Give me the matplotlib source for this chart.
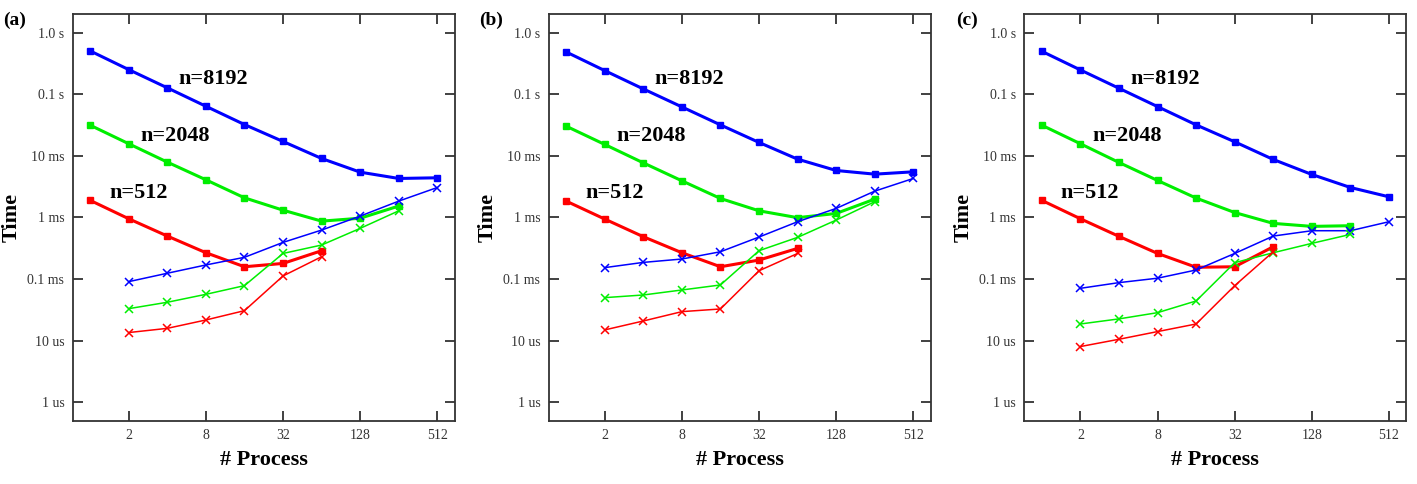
import matplotlib
matplotlib.use('Agg')
import matplotlib.pyplot as plt

plt.rcParams['font.family'] = ['Liberation Serif', 'DejaVu Serif']

procs = [1, 2, 4, 8, 16, 32, 64, 128, 256, 512]
panel_labels = ['(a)', '(b)', '(c)']
ytick_vals = [1e-6, 1e-5, 1e-4, 1e-3, 1e-2, 1e-1, 1.0]
ytick_text = ['1 us', '10 us', '0.1 ms', '1 ms', '10 ms', '0.1 s', '1.0 s']
xtick_vals = [2, 8, 32, 128, 512]
size_labels = ['n=8192', 'n=2048', 'n=512']

# times in seconds; squares = computation, crosses = communication
a_8192_sq = [0.505, 0.251, 0.127, 0.0638, 0.0322, 0.0171, 0.00906, 0.00543, 0.00429, 0.0044]
a_2048_sq = [0.0314, 0.0157, 0.0079, 0.00408, 0.00208, 0.00131, 0.00087, 0.00097, 0.00153]
a_512_sq = [0.00189, 0.00095, 0.000498, 0.000267, 0.000158, 0.000179, 0.000288]
a_8192_x = [9.06e-5, 1.24e-4, 1.69e-4, 2.25e-4, 3.93e-4, 6.23e-4, 1.05e-3, 1.84e-3, 3.06e-3]
a_2048_x = [3.30e-5, 4.19e-5, 5.64e-5, 7.8e-5, 2.6e-4, 3.56e-4, 6.64e-4, 1.28e-3]
a_512_x = [1.35e-5, 1.58e-5, 2.16e-5, 3.06e-5, 1.12e-4, 2.3e-4]

b_8192_sq = [0.486, 0.242, 0.122, 0.0623, 0.0318, 0.0165, 0.00883, 0.00578, 0.00504, 0.0055]
b_2048_sq = [0.0303, 0.0153, 0.00769, 0.00393, 0.00203, 0.00128, 0.00099, 0.00116, 0.00198]
b_512_sq = [0.00184, 0.00094, 0.000486, 0.000267, 0.000158, 0.000203, 0.000314]
b_8192_x = [1.53e-4, 1.86e-4, 2.11e-4, 2.77e-4, 4.8e-4, 8.51e-4, 1.4e-3, 2.67e-3, 4.29e-3]
b_2048_x = [4.98e-5, 5.5e-5, 6.63e-5, 8.0e-5, 2.88e-4, 4.74e-4, 9.05e-4, 1.8e-3]
b_512_x = [1.49e-5, 2.08e-5, 2.95e-5, 3.26e-5, 1.36e-4, 2.6e-4]

c_8192_sq = [0.498, 0.248, 0.125, 0.063, 0.0318, 0.0169, 0.00873, 0.00498, 0.00306, 0.00216]
c_2048_sq = [0.0314, 0.0157, 0.0078, 0.00398, 0.00206, 0.0012, 0.0008, 0.000715, 0.000733]
c_512_sq = [0.00189, 0.00095, 0.000492, 0.00026, 0.000155, 0.000158, 0.000334]
c_8192_x = [7.06e-5, 8.73e-5, 1.03e-4, 1.4e-4, 2.6e-4, 4.98e-4, 6.08e-4, 6.08e-4, 8.51e-4]
c_2048_x = [1.86e-5, 2.25e-5, 2.84e-5, 4.4e-5, 1.84e-4, 2.67e-4, 3.79e-4, 5.3e-4]
c_512_x = [8.0e-6, 1.05e-5, 1.4e-5, 1.86e-5, 7.8e-5, 2.77e-4]

panels = [
    (a_8192_sq, a_2048_sq, a_512_sq, a_8192_x, a_2048_x, a_512_x),
    (b_8192_sq, b_2048_sq, b_512_sq, b_8192_x, b_2048_x, b_512_x),
    (c_8192_sq, c_2048_sq, c_512_sq, c_8192_x, c_2048_x, c_512_x),
]
colors = ['#0000ff', '#00ee00', '#ff0000']
label_pos = [(9.1, 0.175), (4.6, 0.0209), (2.37, 0.0025)]

fig = plt.figure(figsize=(14.17, 4.84), dpi=100)
lefts = [0.0513, 0.3872, 0.7229]
label_x = [15, 491, 967]

for i, (data, left) in enumerate(zip(panels, lefts)):
    ax = fig.add_axes([left, 0.1308, 0.2696, 0.840])
    sq = data[:3]
    cr = data[3:]
    for vals, col in zip(sq, colors):
        ax.plot(procs[:len(vals)], vals, '-', color=col, lw=2.2,
                marker='s', ms=4.8, mec=col, mfc=col)
    for vals, col in zip(cr, colors):
        ax.plot(procs[1:1 + len(vals)], vals, '-', color=col, lw=1.1,
                marker='x', ms=5.2, mew=1.1)
    for txt, (x, y) in zip(size_labels, label_pos):
        ax.text(x, y, txt, fontsize=16, fontweight='bold', ha='center', va='center')

    ax.set_xscale('log', base=2)
    ax.set_yscale('log')
    ax.set_xlim(0.73, 700)
    ax.set_ylim(5e-7, 2.0)
    ax.set_xticks(xtick_vals)
    ax.set_xticklabels([str(v) for v in xtick_vals])
    ax.set_yticks(ytick_vals)
    ax.set_yticklabels(ytick_text)
    ax.minorticks_off()
    ax.tick_params(direction='in', length=7, width=1.3, top=True, right=True,
                   labelsize=10, labelcolor='#333333', color='#333333', pad=6)
    for s in ax.spines.values():
        s.set_linewidth(1.3)
        s.set_color('#333333')
    ax.set_xlabel('# Process', fontsize=16, fontweight='bold', labelpad=6)
    ax.set_ylabel('Time', fontsize=16, fontweight='bold', labelpad=4)
    fig.text(label_x[i] / 1417, 1 - 20 / 484, panel_labels[i], fontsize=14,
             fontweight='bold', ha='center', va='center')

fig.savefig('out.png', dpi=100)
